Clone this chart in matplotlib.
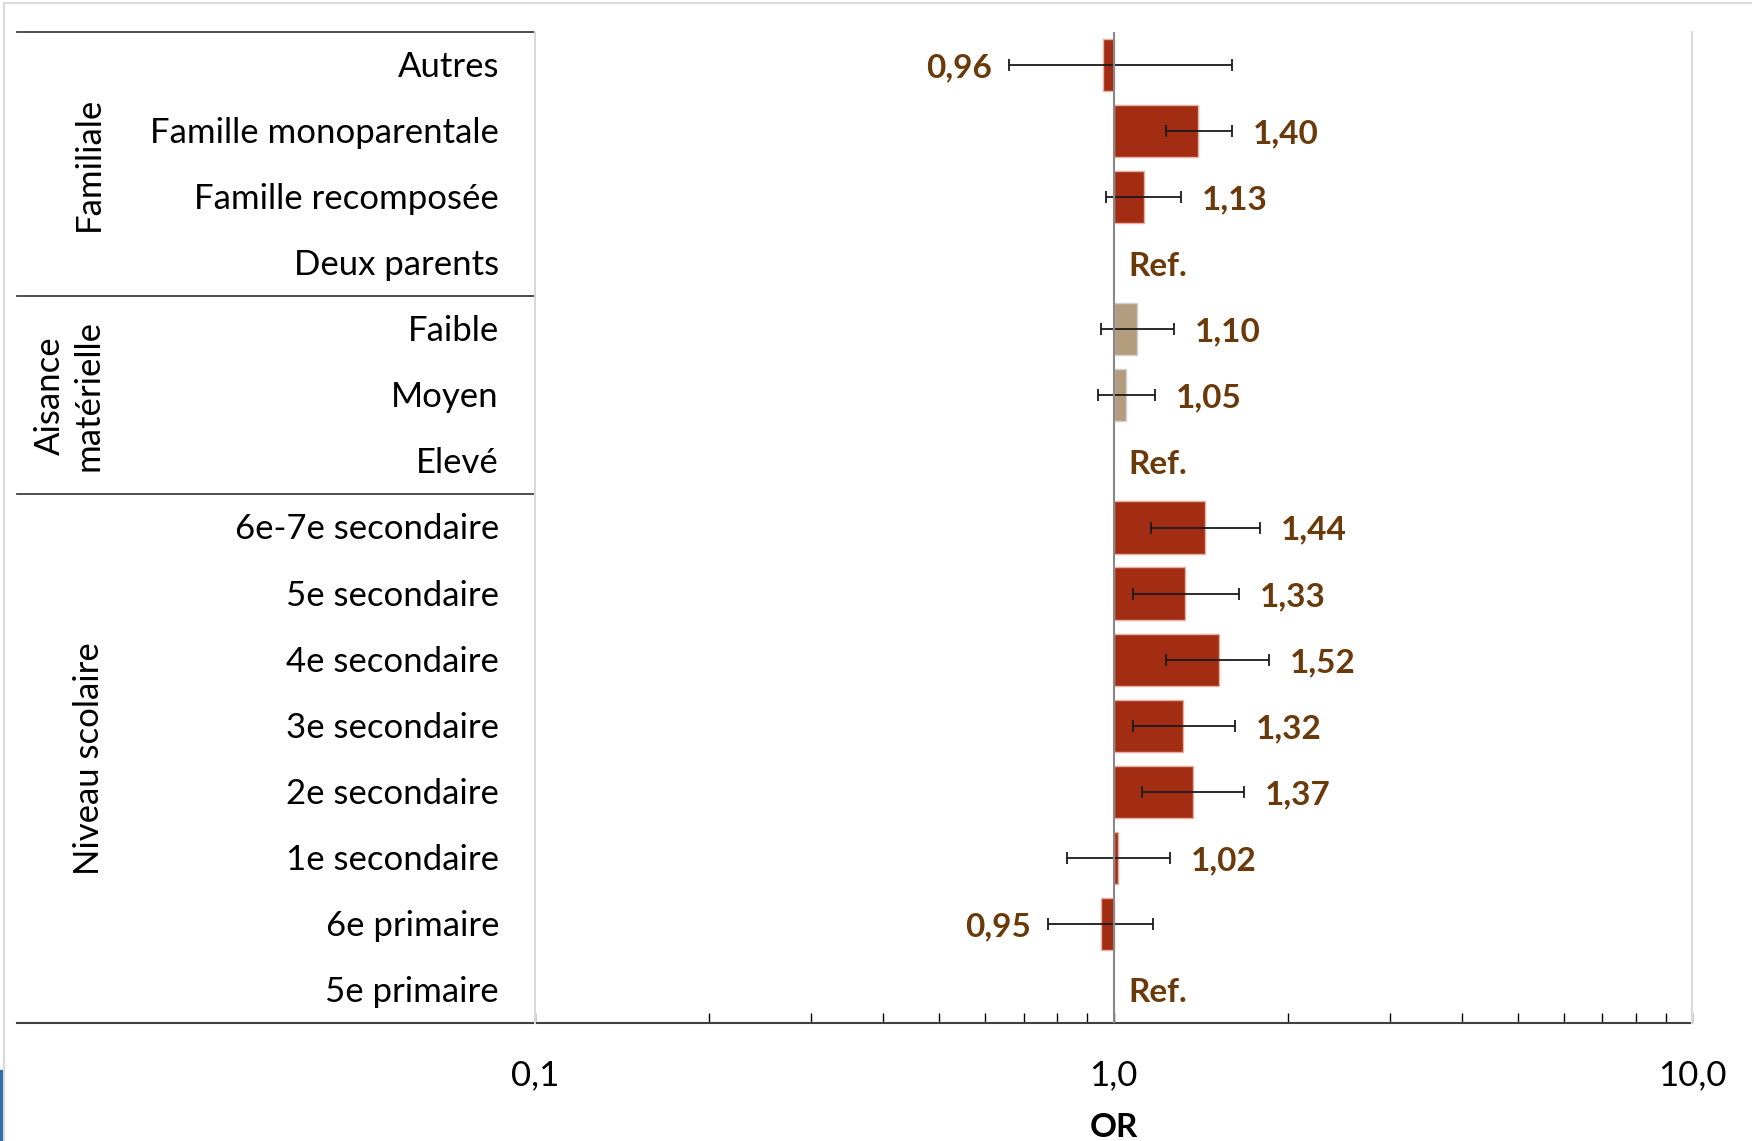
import numpy as np
import matplotlib
matplotlib.use("Agg")
import matplotlib.pyplot as plt
from matplotlib.lines import Line2D
from matplotlib.patches import Rectangle
from matplotlib.ticker import FixedLocator, NullFormatter

plt.rcParams["font.family"] = ["Lato", "DejaVu Sans"]

# rows top to bottom
labels = ["Autres", "Famille monoparentale", "Famille recomposée", "Deux parents",
          "Faible", "Moyen", "Elevé",
          "6e-7e secondaire", "5e secondaire", "4e secondaire", "3e secondaire",
          "2e secondaire", "1e secondaire", "6e primaire", "5e primaire"]
or_vals = [0.96, 1.40, 1.13, None,
           1.10, 1.05, None,
           1.44, 1.33, 1.52, 1.32, 1.37, 1.02, 0.95, None]
ci_low = [0.66, 1.23, 0.97, None,
          0.95, 0.94, None,
          1.16, 1.08, 1.23, 1.08, 1.12, 0.83, 0.77, None]
ci_high = [1.60, 1.60, 1.31, None,
           1.27, 1.18, None,
           1.79, 1.65, 1.86, 1.62, 1.68, 1.25, 1.17, None]
row_group = [0, 0, 0, 0, 1, 1, 1, 2, 2, 2, 2, 2, 2, 2, 2]
group_names = ["Familiale", "Aisance\nmatérielle", "Niveau scolaire"]
group_colors = ["#A32D12", "#B39C7D", "#A32D12"]
tick_vals = [0.1, 1.0, 10.0]
tick_labels = ["0,1", "1,0", "10,0"]

label_color = "#6B3A0A"

fig = plt.figure(figsize=(17.52, 11.41), dpi=100)
ax = fig.add_axes([535 / 1752, 118 / 1141, 1157 / 1752, 991 / 1141])

ax.set_xscale("log")
ax.set_xlim(0.1, 10)
ax.set_ylim(len(labels) - 0.5, -0.5)

px = 1 / 1157  # one pixel in axes fraction (x)

for i, (v, lo, hi) in enumerate(zip(or_vals, ci_low, ci_high)):
    if v is None:
        ax.annotate("Ref.", (1.0, i), xytext=(11, -2), textcoords="offset points",
                    ha="left", va="center", fontsize=24, fontweight="bold",
                    color=label_color)
        continue
    col = group_colors[row_group[i]]
    edge = "#d0d0d0" if row_group[i] == 1 else "#e8b0a0"
    ax.barh(i, abs(v - 1), left=min(v, 1.0), height=0.79, color=col,
            edgecolor=edge, linewidth=1.0, zorder=2)
    ax.errorbar(v, i, xerr=[[v - lo], [hi - v]], fmt="none", ecolor="#1a1a1a",
                elinewidth=1.3, capsize=4.5, capthick=1.3, zorder=3)
    txt = f"{v:.2f}".replace(".", ",")
    if v < 1:
        ax.annotate(txt, (lo, i), xytext=(-12, -2), textcoords="offset points",
                    ha="right", va="center", fontsize=24, fontweight="bold",
                    color=label_color)
    else:
        ax.annotate(txt, (hi, i), xytext=(15, -2), textcoords="offset points",
                    ha="left", va="center", fontsize=24, fontweight="bold",
                    color=label_color)

# reference line at OR = 1
ax.axvline(1.0, color="#888888", linewidth=1.5, zorder=4)

# axes styling
ax.set_yticks([])
for s in ["left", "right"]:
    ax.spines[s].set_color("#d9d9d9")
    ax.spines[s].set_linewidth(1.5)
ax.spines["top"].set_visible(False)
ax.spines["bottom"].set_visible(False)

ax.xaxis.set_major_locator(FixedLocator(tick_vals))
ax.set_xticklabels(tick_labels, fontsize=25)
minor = [m * d for d in (0.1, 1.0) for m in range(2, 10)]
ax.xaxis.set_minor_locator(FixedLocator(minor))
ax.xaxis.set_minor_formatter(NullFormatter())
ax.tick_params(axis="x", which="both", direction="in", length=7, width=1,
               color="black", pad=26)
ax.set_xlabel("OR", fontsize=24, fontweight="bold", labelpad=16)

# table: category labels, group labels, separators
ytr = ax.get_yaxis_transform()
x_left = (17 - 535) * px
for i, lab in enumerate(labels):
    ax.text(-36 * px, i + 0.03, lab, transform=ytr, ha="right", va="center",
            fontsize=25, color="black")

bounds = [-0.5, 3.5, 6.5]
for b in bounds:
    ax.plot([x_left, 0], [b, b], transform=ytr, color="#404040", linewidth=1.3,
            clip_on=False)
ax.plot([x_left, 1], [len(labels) - 0.5] * 2, transform=ytr, color="#404040",
        linewidth=1.5, clip_on=False)

group_x = [(89 - 535) * px, (69 - 535) * px, (89 - 535) * px]
for g, name in enumerate(group_names):
    rows = [i for i, r in enumerate(row_group) if r == g]
    yc = (rows[0] + rows[-1]) / 2
    ax.text(group_x[g], yc, name, transform=ytr, rotation=90, ha="center",
            va="center", fontsize=25, multialignment="center", linespacing=1.25)

# screenshot frame
fig.add_artist(Line2D([4 / 1752, 4 / 1752], [0, 1 - 3 / 1141], color="#d9d9d9",
                      linewidth=1.5))
fig.add_artist(Line2D([4 / 1752, 1], [1 - 3 / 1141] * 2, color="#d9d9d9",
                      linewidth=1.5))
fig.add_artist(Rectangle((0, 0), 3 / 1752, 71 / 1141, color="#2a6fa8"))

fig.savefig("out.png", dpi=100)
